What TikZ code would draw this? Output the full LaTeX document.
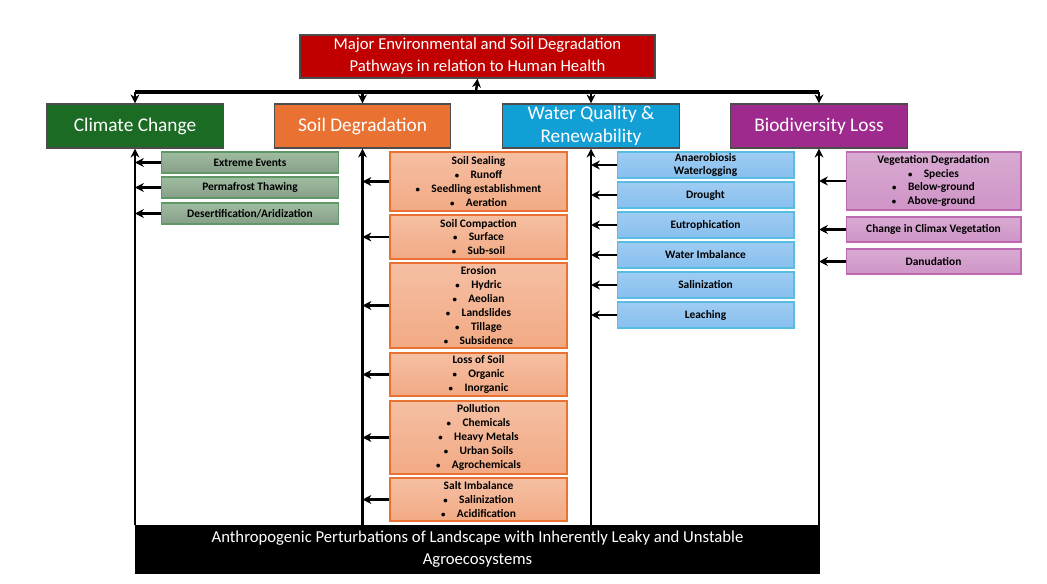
\documentclass[tikz,border=0pt]{standalone}
\usepackage{fontspec}
\setmainfont{Carlito}
\usetikzlibrary{arrows.meta}
\definecolor{titlered}{HTML}{C00000}
\definecolor{ccgreen}{HTML}{1B6B24}
\definecolor{sdorange}{HTML}{E97132}
\definecolor{wqblue}{HTML}{129FD6}
\definecolor{blpurple}{HTML}{9E2A8E}
\newcommand{\bul}{{\tiny\textbullet}\quad}
\begin{document}
\begin{tikzpicture}
		[x=0.02cm, y=-0.02cm,
		head/.style={draw=black!70, line width=0.8pt, text=white, minimum width=3.53cm, minimum height=0.88cm, align=center, font=\fontsize{11}{13}\selectfont, inner sep=1pt},
		sub/.style={line width=0.6pt, minimum width=3.54cm, align=center, font=\fontsize{6.5}{7.9}\selectfont\bfseries, inner sep=0pt},
		gsub/.style={sub, draw=ccgreen!70, top color=black!25!green!25!gray!60, bottom color=ccgreen!45!gray!70},
		osub/.style={sub, draw=sdorange, top color=sdorange!45, bottom color=sdorange!60},
		bsub/.style={sub, draw=wqblue!70, top color=blue!20!wqblue!40, bottom color=blue!20!wqblue!50},
		psub/.style={sub, draw=blpurple!70, top color=blpurple!40, bottom color=blpurple!50},
		arr/.style={-{Stealth[length=5pt,width=5pt]}, line width=1.4pt}]
		\useasboundingbox (0,0) rectangle (1047,584);
		
		% title and four pathways
		\node [draw=black!70, line width=0.8pt, fill=titlered, text=white, minimum width=7.1cm, minimum height=0.86cm, align=center, font=\fontsize{9.5}{12.5}\selectfont, inner sep=1pt] (title) at (477.5,56.5) {Major Environmental and Soil Degradation\\Pathways in relation to Human Health};
		\node [head, fill=ccgreen] (cc) at (135,126) {Climate Change};
		\node [head, fill=sdorange] (sd) at (362.5,126) {Soil Degradation};
		\node [head, fill=wqblue] (wq) at (591,126) {Water Quality \&\\Renewability};
		\node [head, fill=blpurple] (bl) at (819,126) {Biodiversity Loss};
		\node [fill=black, text=white, minimum width=13.7cm, minimum height=0.98cm, align=center, font=\fontsize{9.5}{12.5}\selectfont, inner sep=1pt] (base) at (477.5,549.5) {Anthropogenic Perturbations of Landscape with Inherently Leaky and Unstable\\Agroecosystems};
		\coordinate (bus) at (476,92);
		
		\draw [line width=2.2pt] (cc.north |- bus) -- (bl.north |- bus);
		\draw [arr] (bus) -- (title.south);
		\foreach \h in {cc, sd, wq, bl}
		\draw [arr] (\h.north |- bus) -- (\h.north);
		\foreach \h in {cc, sd, wq, bl}
		\draw [arr] (\h.south |- base.north) -- (\h.south);
		
		% climate change
		\node [gsub, minimum height=0.42cm] (ee) at (250,162.5) {Extreme Events};
		\node [gsub, minimum height=0.42cm] (pt) at (250,187.5) {Permafrost Thawing};
		\node [gsub, minimum height=0.42cm] (da) at (250,213.5) {Desertification/Aridization};
		\foreach \s in {ee, pt, da}
		\draw [arr] (\s.west) -- (\s.west -| cc.south);
		
		% soil degradation
		\node [osub, minimum height=1.18cm] (ss) at (478.5,181.5) {Soil Sealing\\\bul Runoff\\\bul Seedling establishment\\\bul Aeration};
		\node [osub, minimum height=0.88cm] (sc) at (478.5,237) {Soil Compaction\\\bul Surface\\\bul Sub-soil};
		\node [osub, minimum height=1.70cm] (er) at (478.5,305.5) {Erosion\\\bul Hydric\\\bul Aeolian\\\bul Landslides\\\bul Tillage\\\bul Subsidence};
		\node [osub, minimum height=0.86cm] (ls) at (478.5,374.5) {Loss of Soil\\\bul Organic\\\bul Inorganic};
		\node [osub, minimum height=1.46cm] (po) at (478.5,437.5) {Pollution\\\bul Chemicals\\\bul Heavy Metals\\\bul Urban Soils\\\bul Agrochemicals};
		\node [osub, minimum height=0.86cm] (si) at (478.5,499.5) {Salt Imbalance\\\bul Salinization\\\bul Acidification};
		\foreach \s in {ss, sc, er, ls, po, si}
		\draw [arr] (\s.west) -- (\s.west -| sd.south);
		
		% water quality
		\node [bsub, minimum height=0.52cm] (an) at (705.5,165) {Anaerobiosis\\Waterlogging};
		\node [bsub, minimum height=0.52cm] (dr) at (705.5,195) {Drought};
		\node [bsub, minimum height=0.52cm] (eu) at (705.5,225) {Eutrophication};
		\node [bsub, minimum height=0.52cm] (wi) at (705.5,255) {Water Imbalance};
		\node [bsub, minimum height=0.52cm] (sa) at (705.5,285) {Salinization};
		\node [bsub, minimum height=0.52cm] (le) at (705.5,315) {Leaching};
		\foreach \s in {an, dr, eu, wi, sa, le}
		\draw [arr] (\s.west) -- (\s.west -| wq.south);
		
		% biodiversity loss
		\node [psub, minimum width=3.5cm, minimum height=1.16cm] (vd) at (933.5,181) {Vegetation Degradation\\\bul Species\\\bul Below-ground\\\bul Above-ground};
		\node [psub, minimum width=3.5cm, minimum height=0.5cm] (cv) at (933.5,229.5) {Change in Climax Vegetation};
		\node [psub, minimum width=3.5cm, minimum height=0.5cm] (dn) at (933.5,261.5) {Danudation};
		\foreach \s in {vd, cv, dn}
		\draw [arr] (\s.west) -- (\s.west -| bl.south);
\end{tikzpicture}
\end{document}
